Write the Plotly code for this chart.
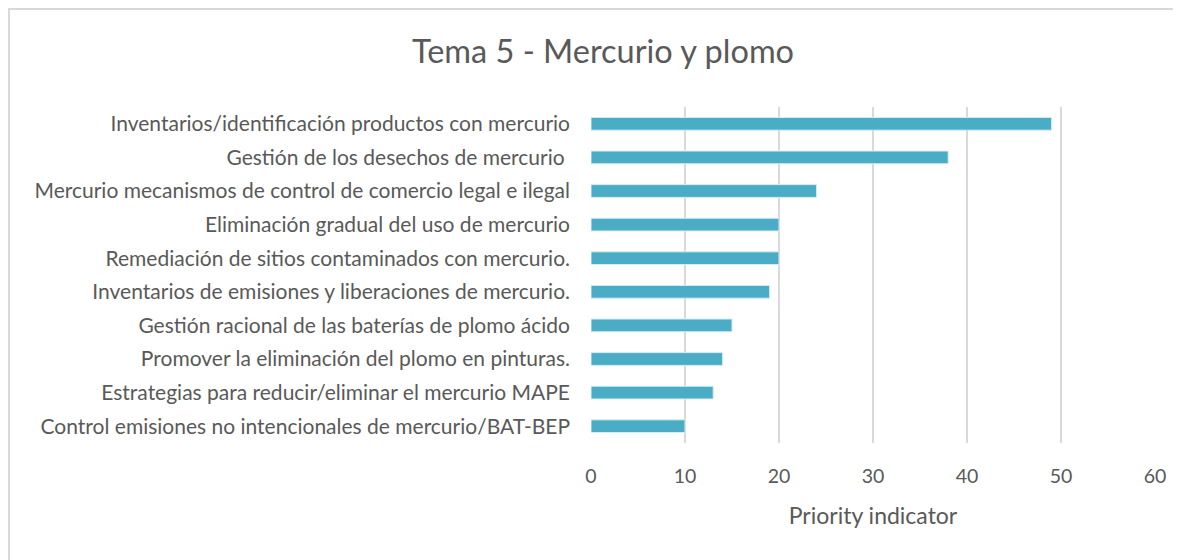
import plotly.graph_objects as go

categories = [
    "Inventarios/identificación productos con mercurio",
    "Gestión de los desechos de mercurio ",
    "Mercurio mecanismos de control de comercio legal e ilegal",
    "Eliminación gradual del uso de mercurio",
    "Remediación de sitios contaminados con mercurio.",
    "Inventarios de emisiones y liberaciones de mercurio.",
    "Gestión racional de las baterías de plomo ácido",
    "Promover la eliminación del plomo en pinturas.",
    "Estrategias para reducir/eliminar el mercurio MAPE",
    "Control emisiones no intencionales de mercurio/BAT-BEP",
]
values = [49, 38, 24, 20, 20, 19, 15, 14, 13, 10]
x_ticks = [0, 10, 20, 30, 40, 50, 60]

FONT = "Lato, Open Sans, sans-serif"
GREY = "#595959"

# page has an 8px body margin, so the figure is drawn 8px right and down
OFF = 8
W, H = 1181 - OFF, 560 - OFF
L, R, T, B = 591 - OFF, 26, 107 - OFF, 117
PW, PH = W - L - R, H - T - B

fig = go.Figure(go.Bar(
    y=categories, x=values, orientation="h",
    marker=dict(color="#4BACC6", line=dict(color="#d6eef4", width=1)),
    width=0.38,
))

fig.update_layout(
    width=W, height=H,
    paper_bgcolor="white", plot_bgcolor="white",
    margin=dict(l=L, r=R, t=T, b=B, autoexpand=False),
    showlegend=False,
    title=dict(text="Tema 5 - Mercurio y plomo", x=(603 - OFF) / W, xanchor="center",
               y=1 - (52 - OFF) / H, yanchor="middle",
               font=dict(family=FONT, size=32.5, color=GREY)),
    font=dict(family=FONT, color=GREY),
    shapes=[dict(type="rect", xref="paper", yref="paper",
                 x0=(1 - L) / PW, x1=(W + 20 - L) / PW,
                 y0=-(H + 20 - (T + PH)) / PH, y1=(T + PH - 1) / PH,
                 line=dict(color="#d9d9d9", width=2), fillcolor="rgba(0,0,0,0)",
                 layer="below")],
)
fig.update_xaxes(range=[0, 60], tickvals=x_ticks, showgrid=True,
                 gridcolor="#d9d9d9", gridwidth=2, zeroline=False,
                 showline=False, ticks="", tickfont=dict(size=19.5, color=GREY),
                 ticklabelstandoff=19, automargin=False,
                 title=dict(text="Priority indicator", standoff=22,
                            font=dict(size=23, color=GREY)))
fig.update_yaxes(autorange="reversed", showgrid=False, zeroline=False,
                 showline=False, ticks="", tickfont=dict(size=21, color=GREY),
                 ticklabelstandoff=20, automargin=False)

fig.write_html("out.html")
